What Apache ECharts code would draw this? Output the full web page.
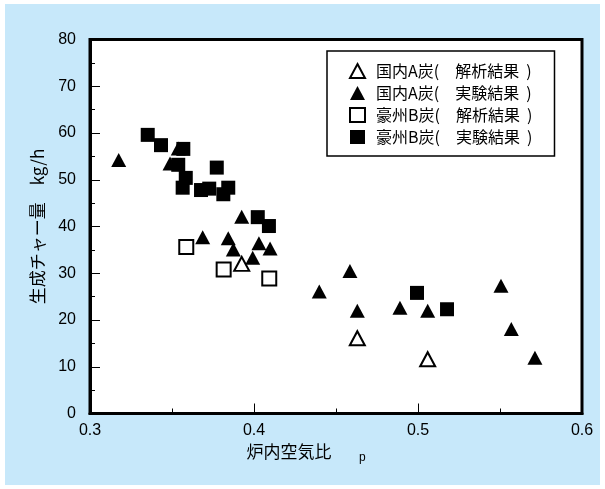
<!DOCTYPE html>
<html>
<head>
<meta charset="utf-8">
<script src="https://cdn.jsdelivr.net/npm/echarts@6/dist/echarts.min.js"></script>
<style>
  html, body { margin: 0; padding: 0; background: #ffffff; }
  #panel { position: absolute; left: 5px; top: 4px; width: 595px; height: 481px; background: #c7e8fa; }
  #chart { position: absolute; left: -5px; top: -4px; width: 605px; height: 489px; }
</style>
</head>
<body>
<div id="panel"><div id="chart"></div></div>
<script>
// 炉内空気比 vs 生成チャー量 (kg/h)
const seriesNames = [
  '国内A炭(\u3000解析結果  )',
  '国内A炭(\u3000実験結果  )',
  '豪州B炭(\u3000解析結果  )',
  '豪州B炭(\u3000実験結果  )'
];

// 国内A炭 解析結果
const coalA_calc = [
  [0.3925, 32.0], [0.463, 16.1], [0.5059, 11.6]
];

// 国内A炭 実験結果
const coalA_exp = [
  [0.3175, 54.2], [0.3488, 53.5], [0.3538, 56.7], [0.3925, 42.1],
  [0.3687, 37.7], [0.3843, 37.5], [0.3874, 35.1], [0.4030, 36.4],
  [0.4098, 35.3], [0.3992, 33.3], [0.4585, 30.5], [0.4398, 26.1],
  [0.4630, 22.0], [0.4890, 22.6], [0.5059, 22.0], [0.5506, 27.3],
  [0.5569, 18.1], [0.5713, 11.9]
];

// 豪州B炭 解析結果
const coalB_calc = [
  [0.3587, 35.6], [0.3815, 30.8], [0.4093, 28.9]
];

// 豪州B炭 実験結果
const coalB_exp = [
  [0.3352, 59.6], [0.3433, 57.4], [0.3569, 56.6], [0.3538, 53.2],
  [0.3584, 50.4], [0.3565, 48.3], [0.3677, 47.8], [0.3727, 48.1],
  [0.3773, 52.6], [0.3813, 46.9], [0.3843, 48.3], [0.4023, 42.0],
  [0.4091, 40.1], [0.4994, 25.8], [0.5177, 22.3]
];

const xTicks = [0.3, 0.4, 0.5, 0.6];
const yTicks = [0, 10, 20, 30, 40, 50, 60, 70, 80];

const textFont = 'Liberation Sans, Arial, "Noto Sans CJK JP", sans-serif';
const cjkFont = '"Noto Sans CJK JP", "Liberation Sans", sans-serif';

const chart = echarts.init(document.getElementById('chart'), null, { renderer: 'canvas' });

function scatter(name, data, symbol, filled) {
  return {
    name: name,
    type: 'scatter',
    data: data,
    symbol: symbol,
    symbolSize: symbol === 'rect' ? 14 : [15, 14],
    itemStyle: filled
      ? { color: '#000000', borderColor: '#000000', borderWidth: 0, opacity: 1 }
      : { color: '#ffffff', borderColor: '#000000', borderWidth: 2, opacity: 1 },
    emphasis: { disabled: true },
    z: filled ? 3 : 4
  };
}

chart.setOption({
  animation: false,
  backgroundColor: 'transparent',
  grid: {
    left: 90, top: 39.5, right: 23, bottom: 75.5,
    show: true, backgroundColor: '#ffffff', borderColor: '#000000', borderWidth: 3
  },
  legend: {
    orient: 'vertical',
    left: 327, top: 51,
    padding: [12, 22, 11, 22],
    itemGap: 6,
    itemWidth: 15, itemHeight: 14,
    backgroundColor: '#ffffff',
    borderColor: '#000000', borderWidth: 1.5,
    textStyle: { fontFamily: cjkFont, fontSize: 16, color: '#000000', padding: [0, 0, 0, 6] },
    data: seriesNames.map(function (n, i) {
      return { name: n, icon: i < 2 ? 'triangle' : 'rect' };
    })
  },
  xAxis: {
    type: 'value',
    min: xTicks[0], max: xTicks[xTicks.length - 1], interval: 0.1,
    name: '炉内空気比',
    nameLocation: 'middle', nameGap: 30,
    nameTextStyle: { fontFamily: cjkFont, fontSize: 17, color: '#000000', padding: [0, 94, 0, 0] },
    axisLine: { show: true, lineStyle: { color: '#000000', width: 3 } },
    axisTick: { show: true, inside: true, length: 10, lineStyle: { color: '#000000', width: 1 } },
    minorTick: { show: true, splitNumber: 2, length: 5, lineStyle: { color: '#000000', width: 1 } },
    splitLine: { show: false },
    axisLabel: {
      fontFamily: textFont, fontSize: 16, color: '#000000', margin: 9,
      formatter: function (v) { return v.toFixed(1); }
    }
  },
  yAxis: {
    type: 'value',
    min: yTicks[0], max: yTicks[yTicks.length - 1], interval: 10,
    name: '生成チャー量\u3000kg/h',
    nameLocation: 'middle', nameGap: 44,
    nameTextStyle: { fontFamily: cjkFont, fontSize: 17, color: '#000000' },
    axisLine: { show: true, lineStyle: { color: '#000000', width: 3 } },
    axisTick: { show: true, inside: true, length: 10, lineStyle: { color: '#000000', width: 1 } },
    minorTick: { show: true, splitNumber: 2, length: 5, lineStyle: { color: '#000000', width: 1 } },
    splitLine: { show: false },
    axisLabel: { fontFamily: textFont, fontSize: 16, color: '#000000', margin: 14 }
  },
  graphic: [
    {
      type: 'text', left: 359, top: 452, z: 10,
      style: { text: 'p', fontFamily: textFont, fontSize: 12, fill: '#000000' }
    }
  ],
  series: [
    scatter(seriesNames[0], coalA_calc, 'triangle', false),
    scatter(seriesNames[1], coalA_exp, 'triangle', true),
    scatter(seriesNames[2], coalB_calc, 'rect', false),
    scatter(seriesNames[3], coalB_exp, 'rect', true)
  ]
});
</script>
</body>
</html>
